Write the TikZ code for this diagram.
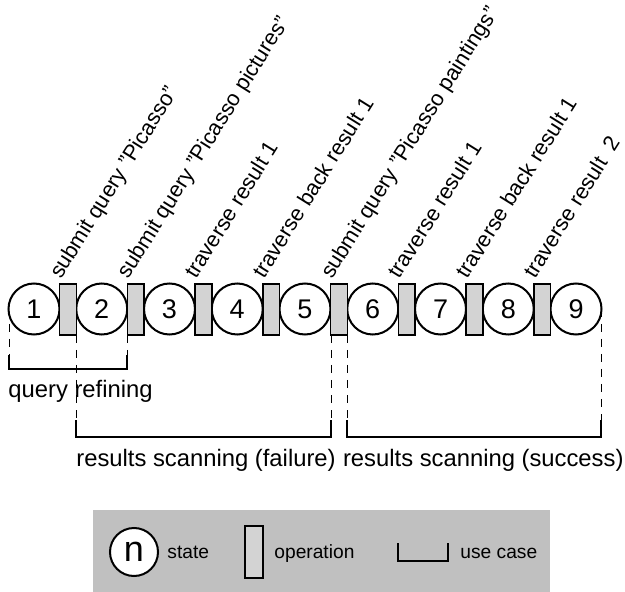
\documentclass[tikz,border=0pt]{standalone}
\usepackage{fontspec}
\setmainfont{Liberation Sans}
\usetikzlibrary{positioning}
\definecolor{opgray}{HTML}{D3D3D3}
\definecolor{legendgray}{HTML}{C0C0C0}
\tikzset{
  state/.style={circle,draw,line width=1pt,fill=white,minimum size=25.5pt,inner sep=0pt,
    font=\fontsize{13.5}{15}\selectfont},
  oper/.style={rectangle,draw,line width=0.8pt,fill=opgray,minimum width=8.4pt,
    minimum height=25.5pt,inner sep=0pt},
  oplabel/.style={anchor=base west,rotate=58,inner sep=0pt,font=\fontsize{10.9}{12}\selectfont},
  phase/.style={anchor=base west,inner sep=0pt,font=\fontsize{11.9}{14}\selectfont},
  legtext/.style={anchor=base west,inner sep=0pt,font=\fontsize{9.6}{11}\selectfont},
  guide/.style={line width=0.5pt,dash pattern=on 4pt off 3.5pt},
  usecase/.style={line width=1pt}
}
\begin{document}
\begin{tikzpicture}[x=0.5pt,y=-0.5pt]
        \useasboundingbox (0,0) rectangle (625,592);

        % the legend background
        \fill[legendgray] (93,510) rectangle (550,592);

        % dashed guides from the row down to the use cases
        \draw[guide] (9,309) -- (9,355);
        \draw[guide] (76,335) -- (76,420);
        \draw[guide] (127,335) -- (127,355);
        \draw[guide] (331,335) -- (331,420);
        \draw[guide] (347,335) -- (347,420);
        \draw[guide] (601,309) -- (601,420);

        % states
        \foreach \i in {1,...,9} {
                \node[state] (s\i) at ({34+67.75*(\i-1)},309) {\i};
        }

        % operations with their labels
        \foreach \i/\optext in {
            1/submit query "Picasso",
            2/submit query "Picasso pictures",
            3/traverse result 1,
            4/traverse back result 1,
            5/submit query "Picasso paintings",
            6/traverse result 1,
            7/traverse back result 1,
            8/traverse result \ 2}
        {
                \node[oper] (o\i) at ({68+67.75*(\i-1)},309.5) {};
                \node[oplabel] (l\i) at ([xshift=1pt,yshift=1.5pt]o\i.north west) {\optext};
        }

        % use cases
        \coordinate (qa) at (9,355);
        \coordinate (qb) at (127,355);
        \draw[usecase] (qa) -- ++(0,14) -| (qb);
        \coordinate (fa) at (76,420);
        \coordinate (fb) at (331,420);
        \draw[usecase] (fa) -- ++(0,17) -| (fb);
        \coordinate (ua) at (347,420);
        \coordinate (ub) at (601,420);
        \draw[usecase] (ua) -- ++(0,17) -| (ub);

        \node[phase] (qtxt) at (8,397) {query refining};
        \node[phase] (ftxt) at (76,466) {results scanning (failure)};
        \node[phase,base right=3.3pt of ftxt] (utxt) {results scanning (success)};

        % the legend
        \node[state,minimum size=24pt,font=\fontsize{18}{20}\selectfont] (ln) at (134,552) {n};
        \node[legtext] (lstate) at (167,558) {state};
        \node[oper,minimum width=9pt,minimum height=26pt] (lop) at (254,552) {};
        \node[legtext] (lopt) at (274,558) {operation};
        \coordinate (lca) at (398,543);
        \coordinate (lcb) at (448,543);
        \draw[usecase] (lca) -- ++(0,18) -| (lcb);
        \node[legtext] (luse) at (460,558) {use case};
\end{tikzpicture}
\end{document}
